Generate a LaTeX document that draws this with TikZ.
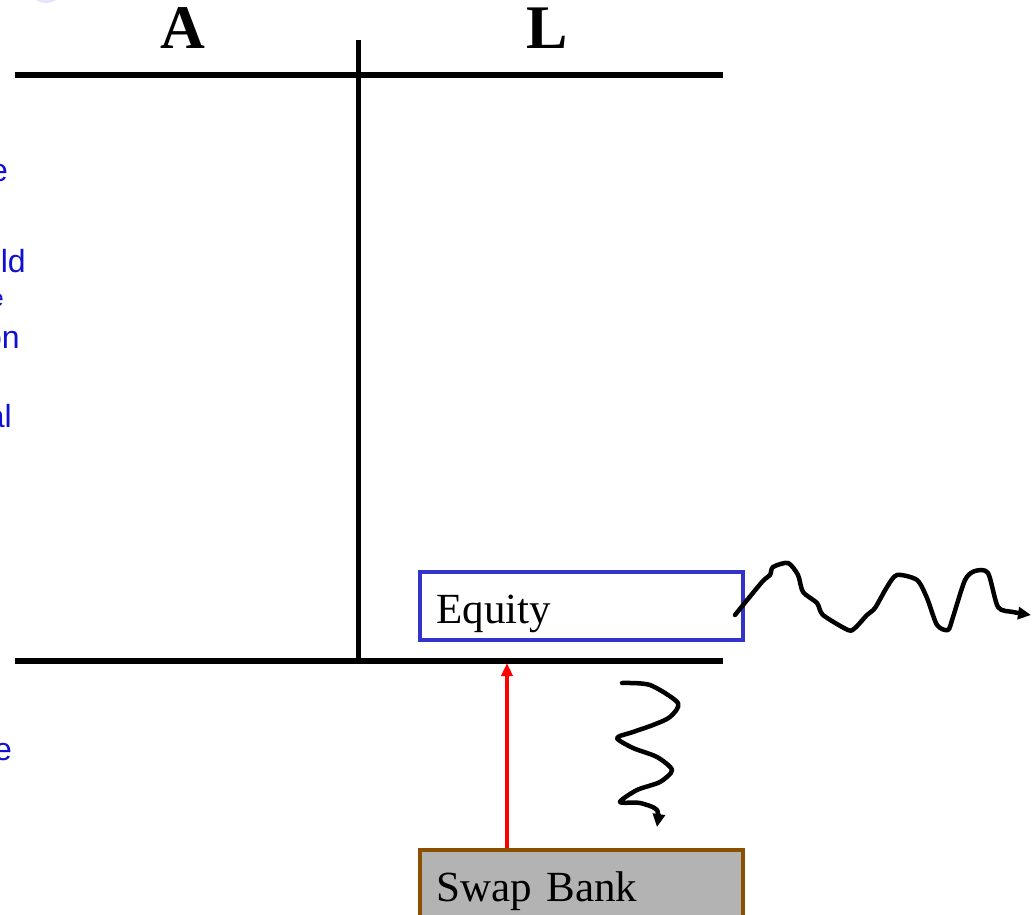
\documentclass[tikz,border=0pt]{standalone}
\usepackage{fontspec}
\setmainfont{Liberation Serif}
\newfontfamily\notefont{Liberation Sans}
\usetikzlibrary{arrows.meta, positioning}
\definecolor{noteblue}{HTML}{1010D0}
\definecolor{notelav}{HTML}{E4E4FA}
\definecolor{eqblue}{HTML}{3333CC}
\definecolor{bankgray}{HTML}{B3B3B3}
\definecolor{bankbrown}{HTML}{8B4F00}

\begin{document}
\begin{tikzpicture}[
    x=1pt, y=-1pt,
    every node/.style={inner sep=0pt},
    ledger/.style={line width=5.5pt},
    head/.style={anchor=base, font=\fontsize{62}{62}\selectfont\bfseries},
    acct/.style={draw, line width=4pt, minimum height=68pt, text width=290pt,
        inner xsep=16.5pt, align=left, text height=38pt, text depth=4pt,
        font=\fontsize{43}{43}\selectfont},
    frag/.style={anchor=base east, text=noteblue, font=\notefont\fontsize{32}{32}\selectfont},
    wiggle/.style={line width=4.5pt, line join=round, line cap=round,
        -{Triangle[length=13pt,width=12pt]}},
    lift/.style={draw=red, line width=3.5pt, -{Triangle[length=13pt,width=11pt]}}
]
\useasboundingbox (0,0) rectangle (1034,915);
\clip (0,0) rectangle (1034,915);

% cut-off notes on the left
\fill[notelav] (46,-5) ellipse (13 and 8);
\node[frag] (n1) at (8,182) {e};
\node[frag] (n2) at (26,272) {ld};
\node[frag, font=\notefont\fontsize{24}{24}\selectfont] (n3) at (4,306) {e};
\node[frag] (n4) at (20,348) {on};
\node[frag] (n5) at (12,427) {al};
\node[frag] (n6) at (12,760) {e};

% T-account
\node[head] (hA) at (183,49) {A};
\node[head] (hL) at (547,49) {L};
\coordinate (topl) at (15,75);
\coordinate (topr) at (723,75);
\coordinate (botl) at (15,661);
\coordinate (botr) at (723,661);
\coordinate (mid) at (358.5,40);
\draw[ledger] (topl) -- (topr);
\draw[ledger] (botl) -- (botr);
\draw[ledger] (mid) -- (mid |- botl);

% accounts
\node[acct, draw=eqblue] (equity) at (581.5,606) {Equity};
\node[acct, draw=bankbrown, fill=bankgray] (swap) at (581.5,884) {Swap Bank};

\coordinate (hit) at (507,663);
\draw[lift] (swap.north -| hit) -- (hit);

% wiggles
\draw[wiggle] plot[smooth, tension=0.45] coordinates {
    (735,615) (762,582) (770,575) (773,567) (788,563) (798,575) (803,592)
    (817,603) (823,615) (848,630) (855,628) (867,615) (875,608) (887,587)
    (897,575) (917,580) (927,598) (937,625) (948,630) (953,617) (965,580)
    (975,571) (988,573) (998,607) (1013,612) (1031,615)};
\draw[wiggle] plot[smooth, tension=0.45] coordinates {
    (622,683) (650,685) (678,703) (670,717) (653,725) (633,732) (617,738)
    (633,748) (657,757) (672,770) (660,782) (637,790) (620,802) (640,803)
    (657,810) (657,827)};
\end{tikzpicture}
\end{document}
